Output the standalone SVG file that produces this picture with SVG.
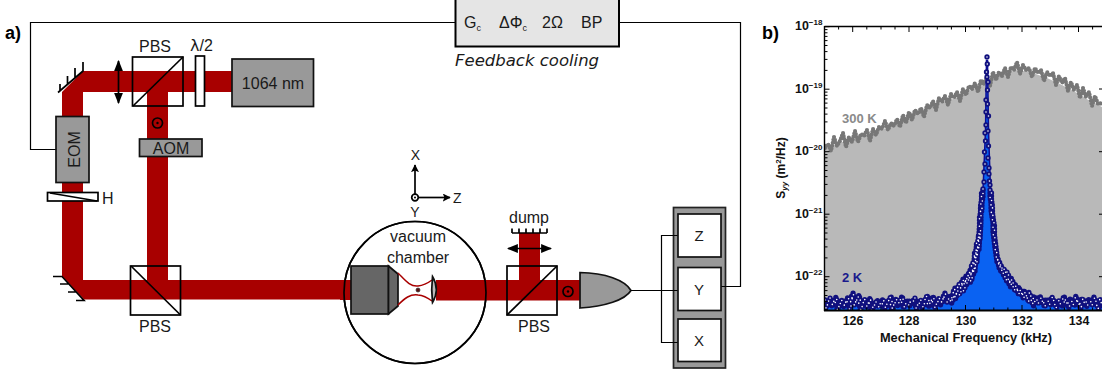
<svg xmlns="http://www.w3.org/2000/svg" xmlns:xlink="http://www.w3.org/1999/xlink" width="1102" height="376" viewBox="0 0 1102 376">
<style>
text{font-family:"Liberation Sans",Arial,sans-serif;font-size:16px;fill:#1a1a1a}
.c{text-anchor:middle}
.b{font-weight:bold;fill:#000}
.t{font-weight:bold;font-size:12.4px;fill:#111}
.e{font-size:8px}
.ax{font-size:14px}
.lb{font-size:15px}
.beam{fill:#a80000}
.o{fill:none;stroke:#000;stroke-width:1.7}
.box{stroke:#111;stroke-width:1.7}
.gray{fill:#999}
.w{fill:#fff}
.wire{fill:none;stroke:#000;stroke-width:1.2}
.tick{fill:none;stroke:#000;stroke-width:1}
</style>
<defs>
<clipPath id="pc"><rect x="825" y="27" width="277" height="283"/></clipPath>
<marker id="a" viewBox="0 0 10 10" refX="9" refY="5" markerWidth="8" markerHeight="8" markerUnits="userSpaceOnUse" orient="auto-start-reverse"><path d="M0 0L10 5L0 10L2 5Z" fill="#000"/></marker>
<marker id="ab" viewBox="0 0 10 10" refX="9" refY="5" markerWidth="11" markerHeight="11" markerUnits="userSpaceOnUse" orient="auto-start-reverse"><path d="M0 1L10 5L0 9Z" fill="#000"/></marker>
<path id="dec" d="M825 0h4.500M825 -18.800h2.500M825 -29.800h2.500M825 -37.600h2.500M825 -43.700h2.500M825 -48.600h2.500M825 -52.800h2.500M825 -56.400h2.500M825 -59.600h2.500"/>
<path id="grayn" fill="none" stroke-linecap="round" stroke-dasharray="0 3" d="M825 148L828 144 831 151 834 137 837 146 840 141 843 133 846 147 849 137 852 142 855 131 858 142 861 134 864 136 867 130 870 141 873 129 876 135 879 127 882 129 885 121 888 130 891 123 894 126 897 119 900 127 903 115 906 123 909 112 912 120 915 110 918 114 921 108 924 117 927 105 930 108 933 101 936 110 939 98 942 102 945 96 948 105 951 94 954 98 957 92 960 101 963 89 966 95 969 86 972 89 975 83 978 92 981 80 984 84 987 77 990 86 993 72 996 80 999 72 1002 76 1005 68 1008 77 1011 67 1014 70 1017 62 1020 74 1023 65 1026 70 1029 68 1032 77 1035 68 1038 73 1041 70 1044 81 1047 72 1050 76 1053 73 1056 85 1059 76 1062 83 1065 78 1068 91 1071 82 1074 90 1077 85 1080 98 1083 88 1086 97 1089 92 1092 106 1095 96 1098 104 1102 103"/>
<path id="noise" fill="none" stroke-linecap="round" d="M825 300L827 306 830 298 833 303 836 297 839 307 842 300 845 304 848 297 851 306 853 293 856 303 859 295 862 307 865 299 868 304 870 298 873 308 877 300 880 304 883 299 886 306 888 302 891 296 893 307 896 299 899 303 902 296 905 305 908 300 911 303 915 298 918 306 921 300 924 305 927 295 930 304 933 296 936 305 939 298 942 302 945 293 948 300 951 295 953 301 955 288 957 296 959 284 961 292 963 279 965 288 966 276 968 283 970 270 972 280 973 262 975 272 976 250 977 262 978 240 979 250 980 232 980 240 981 222 981 214 982 210 982 203 983 197 983 190"/>
<path id="noise2" fill="none" stroke-linecap="round" d="M990 190L990 197 991 203 991 210 992 217 993 223 993 232 994 240 995 248 996 255 997 262 998 258 999 268 1001 264 1002 272 1004 268 1005 278 1007 272 1009 284 1011 277 1013 287 1015 283 1017 292 1019 287 1022 296 1024 290 1027 299 1029 292 1032 303 1034 296 1037 300 1040 296 1043 304 1046 299 1049 302 1052 297 1055 305 1058 300 1061 303 1064 296 1067 305 1070 299 1073 303 1076 296 1079 306 1082 298 1085 304 1088 299 1091 302 1094 297 1097 306 1100 299 1102 303"/>
<path id="peak" d="M987 57h0M987.300 64h0M986.500 72h0M987 77h0M988 82h0M987.500 90h0M986 100h0M987.500 104h0M986 112h0M988.500 116h0M986 125h0M985 133h0M988 131h0M985.500 141h0M988.500 146h0M984.500 152h0M988 158h0M985 164h0M989 168h0M984 172h0M989 174h0M989.500 181h0M984 182h0M990 185h0M983 189h0" fill="none" stroke-linecap="round"/>
<g id="blue"><use xlink:href="#noise" href="#noise"/><use xlink:href="#noise" href="#noise" x="-1.500" y="3"/><use xlink:href="#noise2" href="#noise2"/><use xlink:href="#noise2" href="#noise2" x="1.500" y="3"/></g>
</defs>

<g id="feedback-wires"><path class="wire" d="M56 149.500H30.500V22.500H456M619 22.500H740.500V286.500H726"/></g>

<g id="beams">
<path class="beam" d="M62 92L83 71H232V92H168V280H350V299.500H84L62 276Z"/>
<path class="w" d="M83 92H147V280H83Z"/>
</g>

<g id="mirror-top"><path class="o" d="M58 92.500L83 71V62M75 77.500V68M67.500 84V76M60 90.500V84"/></g>
<g id="mirror-bottom"><path class="o" d="M53 276.500H62L84 300.500H76M60 284H68.500M68 292H76.500"/></g>

<g id="eom"><rect class="box gray" x="56" y="116.500" width="33" height="66"/><text class="c" transform="translate(79.500 149.500) rotate(-90)">EOM</text></g>
<g id="aom"><rect class="box gray" x="139.500" y="139" width="62.500" height="17.500"/><text class="c" x="171" y="153.500">AOM</text></g>
<g id="pol-h"><rect class="o w" x="47.500" y="192.500" width="50.500" height="8.500"/><path class="o" stroke-width="1" d="M50 193L97 201"/><text x="102" y="203.500">H</text></g>
<g id="lens-top"><path class="o" stroke-width="1.200" marker-start="url(#ab)" marker-end="url(#ab)" d="M118.500 61V103"/></g>
<g id="pbs1"><rect class="o" x="132.500" y="57" width="50.500" height="49"/><path class="o" d="M133 106L183 57"/><text class="c" x="155" y="52">PBS</text></g>
<g id="waveplate"><rect class="o w" x="195.500" y="56" width="9" height="50"/><text x="190" y="51"><tspan font-family="DejaVu Sans">λ</tspan>/2</text></g>
<g id="laser"><rect class="box gray" x="232" y="59" width="81.500" height="47.500"/><text class="c" x="273" y="89">1064 nm</text></g>
<g id="pol-dot1"><circle class="o" cx="157.500" cy="123" r="5" stroke-width="1.300"/><circle cx="157.500" cy="123" r="1.200"/></g>
<g id="pbs2"><rect class="o" x="130.500" y="266" width="50" height="49"/><path class="o" d="M131 266L180.500 315"/><text class="c" x="155" y="332">PBS</text></g>

<g id="controller"><rect x="455.500" y="-2" width="163.500" height="48.500" fill="#e5e5e5" stroke="#000" stroke-width="2"/>
<text x="464" y="28">G<tspan font-size="9" dy="3">c</tspan></text>
<text x="499" y="28">ΔΦ<tspan font-size="9" dy="3">c</tspan></text>
<text x="542" y="28">2Ω</text><text x="581" y="28">BP</text></g>
<text id="feedback-label" x="455" y="65.500" style="font-family:'DejaVu Sans',sans-serif;font-style:italic;font-size:16.500px">Feedback cooling</text>

<g id="axes"><path class="o" stroke-width="1.300" marker-end="url(#a)" d="M415 194V165"/><path class="o" stroke-width="1.300" marker-end="url(#a)" d="M418.500 197.500H450"/><circle class="o" cx="415" cy="197.500" r="3.300" stroke-width="1.300"/><circle cx="415" cy="197.500" r="1"/>
<text class="c ax" x="415.500" y="160">X</text><text class="ax" x="453" y="203">Z</text><text class="c ax" x="415" y="217">Y</text></g>

<g id="chamber"><circle cx="415" cy="292.500" r="71" class="o w"/></g>
<g id="beam-right"><path class="beam" d="M340 280H351V300H340ZM436 280H519V233H540V280H582V300.500H436Z"/><circle cx="415" cy="292.500" r="71" fill="none" stroke="#000" stroke-width="1.700"/></g>
<g id="objective"><rect class="box" fill="#666" x="351" y="266" width="37.500" height="48"/><path class="box" fill="#666" d="M388.500 266L398 274V306L388.500 314Z"/></g>
<g id="waist"><path fill="none" stroke="#a80000" stroke-width="1.500" d="M398 273C405 280 410 287 418 286C424 285.500 428 283 432 280M398 305C405 298 410 294 418 295C424 295.500 428 298 432 301"/><circle cx="418" cy="290" r="2" fill="#5a1010" stroke="#333" stroke-width=".7"/></g>
<g id="lens"><path class="box" fill="#bbb" stroke-width="1.500" d="M432.500 276.500C431.500 285 431.500 294 432.500 302.500C437.500 294 437.500 285 432.500 276.500Z"/></g>
<text class="c" x="418" y="242">vacuum</text><text class="c" x="418" y="263">chamber</text>

<g id="dump"><path class="o" d="M512 233H547M512 233V228.500M519 233V228.500M526 233V228.500M533 233V228.500M540 233V228.500M547 233V228.500"/><text class="c" x="529" y="223">dump</text></g>
<g id="lens-bottom"><path class="o" stroke-width="1.200" marker-start="url(#ab)" marker-end="url(#ab)" d="M508 248.500H551"/></g>
<g id="pbs3"><rect class="o" x="507" y="266" width="50" height="49"/><path class="o" d="M507 315L557 266"/><text class="c" x="534" y="332">PBS</text></g>
<g id="pol-dot2"><circle class="o" cx="568" cy="291.500" r="5" stroke-width="1.300"/><circle cx="568" cy="291.500" r="1.200"/></g>
<g id="detector"><path class="box gray" d="M580 272.500C605 273 625 280 631 290.500C625 300 605 306.500 580 308Z"/></g>
<g id="panel"><rect x="673.500" y="207.500" width="52" height="160.500" class="gray" stroke="#222" stroke-width="1.700"/></g>
<g id="det-wires"><path class="wire" d="M631 290.500H678M678 235.500H661.500V342.500H678M726 286.500H721"/></g>
<g id="box-z"><rect class="box w" x="678" y="214" width="43" height="43"/><text class="c lb" x="699" y="240.500">Z</text></g>
<g id="box-y"><rect class="box w" x="678" y="267.500" width="43" height="43"/><text class="c lb" x="699" y="294.500">Y</text></g>
<g id="box-x"><rect class="box w" x="678" y="319" width="43" height="42.500"/><text class="c lb" x="699" y="346">X</text></g>

<text class="b" x="5" y="39" style="font-size:18px">a)</text>
<text class="b" x="762" y="39" style="font-size:18px">b)</text>

<g id="plot">
<path fill="#b9b9b9" d="M825 310V149L845 141L860 137L877 132L895 124L910 117L933 105L960 97L975 88L987 84L1000 75L1017 70L1030 72L1047 78L1062 85L1077 93L1090 101L1102 107V310Z"/>
<g stroke="#777" stroke-width="4.200" clip-path="url(#pc)"><use xlink:href="#grayn" href="#grayn"/></g>
<path fill="#0a62f2" d="M825 304L870 304L900 303L940 300L955 293L965 282L973 265L979 235L983 190L985.500 130L986.500 60L987.500 60L988.500 130L990.500 190L994 235L1000 265L1009 282L1020 293L1040 301L1070 302L1102 303V310H825Z"/>
<path fill="none" stroke="#0c0c96" stroke-width="1.500" d="M975 262L979 235L983 190L985.500 130L986.500 60M987.500 60L988.500 130L990.500 190L994 235L998 262"/>
<g clip-path="url(#pc)"><g stroke="#10107e" stroke-width="5.300" stroke-dasharray="0 3"><use xlink:href="#blue" href="#blue"/></g><g stroke="#10107e" stroke-width="5.300"><use xlink:href="#peak" href="#peak"/></g>
<g stroke="#fff" stroke-width="1.600" stroke-dasharray="0 7.500"><use xlink:href="#blue" href="#blue"/></g><g stroke="#fff" stroke-width="1.600"><use xlink:href="#peak" href="#peak"/></g></g>
<g class="tick" clip-path="url(#pc)"><use xlink:href="#dec" href="#dec" y="89.200"/><use xlink:href="#dec" href="#dec" y="151.700"/><use xlink:href="#dec" href="#dec" y="214.200"/><use xlink:href="#dec" href="#dec" y="276.700"/><use xlink:href="#dec" href="#dec" y="339.200"/>
<path d="M852.700 27v5M866.800 27v2.500M881 27v2.500M895 27v2.500M909 27v5M923.200 27v2.500M937.300 27v2.500M951.400 27v2.500M965.500 27v5M979.600 27v2.500M993.800 27v2.500M1007.900 27v2.500M1022 27v5M1036.100 27v2.500M1050.300 27v2.500M1064.400 27v2.500M1078.500 27v5M1092.600 27v2.500M838.600 27v2.500M852.700 310v-5M866.800 310v-2.500M881 310v-2.500M895 310v-2.500M909 310v-5M923.200 310v-2.500M937.300 310v-2.500M951.400 310v-2.500M965.500 310v-5M979.600 310v-2.500M993.800 310v-2.500M1007.900 310v-2.500M1022 310v-5M1036.100 310v-2.500M1050.300 310v-2.500M1064.400 310v-2.500M1078.500 310v-5M1092.600 310v-2.500M838.600 310v-2.500M1099 89h3M1099 151.700h3M1099 214.200h3M1099 276.700h3"/></g>
<path d="M824.500 26.500H1102M824.500 26V311" fill="none" stroke="#000" stroke-width="1.400"/>
<path d="M824 310.500H1102" fill="none" stroke="#000" stroke-width="1.800"/>
<path d="M825 26.700h4.500" class="tick"/>
<text class="t" x="795" y="30">10<tspan class="e" dy="-5">−18</tspan></text>
<text class="t" x="795" y="92.500">10<tspan class="e" dy="-5">−19</tspan></text>
<text class="t" x="795" y="155">10<tspan class="e" dy="-5">−20</tspan></text>
<text class="t" x="795" y="217.500">10<tspan class="e" dy="-5">−21</tspan></text>
<text class="t" x="795" y="280">10<tspan class="e" dy="-5">−22</tspan></text>
<g text-anchor="middle"><text class="t" x="853" y="325">126</text><text class="t" x="909" y="325">128</text><text class="t" x="966" y="325">130</text><text class="t" x="1022.500" y="325">132</text><text class="t" x="1079" y="325">134</text></g>
<text class="t c" x="966" y="342" style="font-size:12.800px">Mechanical Frequency (kHz)</text>
<text class="t c" transform="translate(785 168) rotate(-90)" style="font-size:12px">S<tspan font-size="8" dy="2" font-style="italic">yy</tspan><tspan dy="-2"> (m</tspan><tspan font-size="8" dy="-4">2</tspan><tspan dy="4">/Hz)</tspan></text>
<text class="t" x="842" y="123" style="fill:#8a8a8a;font-size:13px">300 K</text>
<text class="t" x="842" y="282" style="fill:#1a1a8c;font-size:13px">2 K</text>
</g>
</svg>
